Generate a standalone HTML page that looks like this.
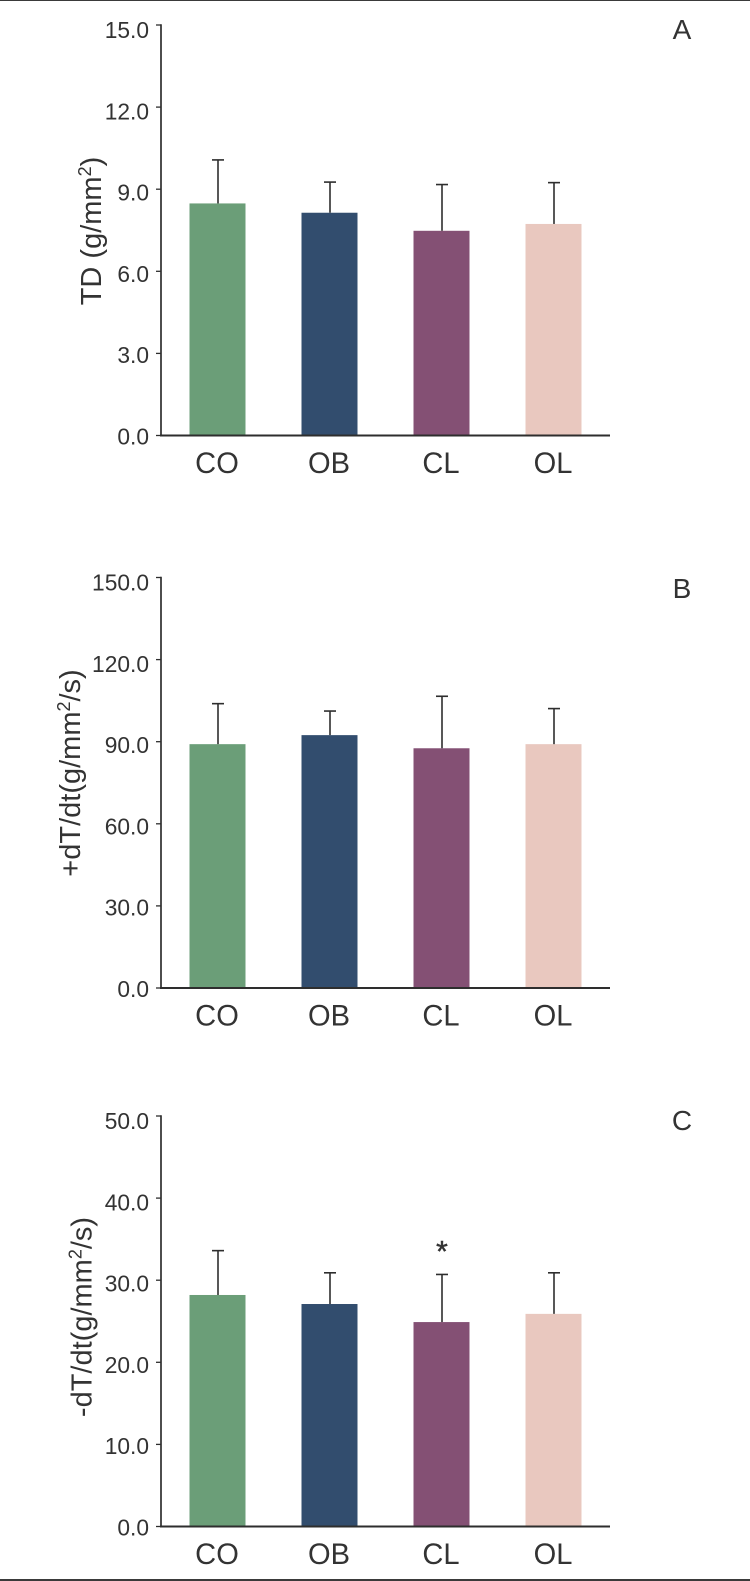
<!DOCTYPE html>
<html lang="en">
<head>
<meta charset="utf-8">
<title>Bar charts of TD, +dT/dt and -dT/dt</title>
<style>
html,body{margin:0;padding:0;background:#fff;}
svg{display:block;}
text{font-family:"Liberation Sans",Arial,sans-serif;fill:#333;}
</style>
</head>
<body>
<svg id="figure" xmlns="http://www.w3.org/2000/svg" width="750" height="1581" viewBox="0 0 750 1581">
  <rect width="750" height="1581" fill="#fff"/>
  <rect x="0" y="0" width="750" height="1" fill="#3a3a3a"/>
  <rect x="0" y="1579" width="750" height="2" fill="#3a3a3a"/>
</svg>
<script>
const categories = ['CO', 'OB', 'CL', 'OL'];
const barColors = ['#6b9e78', '#324d6e', '#845074', '#e9c8bf'];

const tdValues = [8.48, 8.14, 7.48, 7.73];
const tdErrors = [1.59, 1.12, 1.69, 1.51];
const tdTicks = [0, 3, 6, 9, 12, 15];

const plusValues = [89.1, 92.4, 87.6, 89.1];
const plusErrors = [14.8, 8.8, 19.0, 13.0];
const plusTicks = [0, 30, 60, 90, 120, 150];

const minusValues = [28.2, 27.1, 24.9, 25.9];
const minusErrors = [5.4, 3.8, 5.8, 5.0];
const minusTicks = [0, 10, 20, 30, 40, 50];

const svg = document.getElementById('figure');
const NS = 'http://www.w3.org/2000/svg';

function make(tag, props, parent) {
  const el = document.createElementNS(NS, tag);
  for (const k in props) el.setAttribute(k, props[k]);
  parent.appendChild(el);
  return el;
}

function drawPanel(cfg) {
  const left = 161, right = 610, firstCenter = 217.5, step = 112, barWidth = 56;
  const maxVal = cfg.ticks[cfg.ticks.length - 1];
  const y = v => cfg.base - (v / maxVal) * (cfg.base - cfg.top);
  const x = i => firstCenter + i * step;

  const g = make('g', {}, svg);
  
  

  categories.forEach((c, i) => {
    const bar = make('rect', {
      x: x(i) - barWidth / 2, y: y(cfg.values[i]), width: barWidth,
      height: cfg.base - y(cfg.values[i]), fill: barColors[i]
    }, g);
    
    

    const errTop = y(cfg.values[i] + cfg.errors[i]);
    const stem = make('line', {
      x1: x(i) + 0.5, x2: x(i) + 0.5, y1: y(cfg.values[i]), y2: errTop,
      stroke: '#2e2e2e', 'stroke-width': 1.6
    }, g);
    
    

    const cap = make('line', {
      x1: x(i) - 5.5, x2: x(i) + 6.5, y1: errTop, y2: errTop,
      stroke: '#2e2e2e', 'stroke-width': 1.6
    }, g);
    
    

    const label = make('text', {
      transform: 'translate(' + (x(i) - 0.5) + ',' + (cfg.base + 37.5) + ') scale(0.97,1)',
      'font-size': 30, 'text-anchor': 'middle'
    }, g);
    label.textContent = c;
    
    
  });

  const yAxis = make('line', {
    x1: left, x2: left, y1: cfg.top - 0.75, y2: cfg.base + 0.75,
    stroke: '#2e2e2e', 'stroke-width': 1.7
  }, g);
  
  

  const xAxis = make('line', {
    x1: left - 1, x2: right, y1: cfg.base, y2: cfg.base,
    stroke: '#2e2e2e', 'stroke-width': 2
  }, g);
  
  

  cfg.ticks.forEach(t => {
    const tick = make('line', {
      x1: left - 5, x2: left, y1: y(t), y2: y(t),
      stroke: '#2e2e2e', 'stroke-width': 1.3
    }, g);
    
    

    const labelDrop = 9 + 4 * t / maxVal;
    const label = make('text', {
      transform: 'translate(' + (left - 12) + ',' + (y(t) + labelDrop) + ') scale(0.99,1)',
      'font-size': 23, 'text-anchor': 'end'
    }, g);
    label.textContent = t.toFixed(1);
    
    
  });

  const title = make('text', {
    transform: 'translate(' + cfg.titleX + ',' + cfg.titleY + ') rotate(-90)',
    'font-size': 29, 'text-anchor': 'middle'
  }, g);
  
  
  const before = make('tspan', {}, title);
  before.textContent = cfg.titleBefore;
  const sup = make('tspan', { dy: -10, 'font-size': 18 }, title);
  sup.textContent = '2';
  const after = make('tspan', { dy: 10 }, title);
  after.textContent = cfg.titleAfter;

  const letter = make('text', {
    x: 682, y: cfg.letterY, 'font-size': 28, 'text-anchor': 'middle'
  }, g);
  letter.textContent = cfg.letter;
  
  

  return { x, y, g };
}

drawPanel({
  id: 'td', top: 25, base: 435.5, values: tdValues, errors: tdErrors, ticks: tdTicks,
  titleX: 101, titleY: 231, titleBefore: 'TD (g/mm', titleAfter: ')', letter: 'A', letterY: 39
});

drawPanel({
  id: 'plus-dt', top: 577.5, base: 988, values: plusValues, errors: plusErrors, ticks: plusTicks,
  titleX: 80, titleY: 773, titleBefore: '+dT/dt(g/mm', titleAfter: '/s)', letter: 'B', letterY: 598
});

const panelC = drawPanel({
  id: 'minus-dt', top: 1116, base: 1526.5, values: minusValues, errors: minusErrors, ticks: minusTicks,
  titleX: 91.5, titleY: 1317, titleBefore: '-dT/dt(g/mm', titleAfter: '/s)', letter: 'C', letterY: 1130
});

const star = make('text', {
  x: panelC.x(2) + 0.5, y: panelC.y(minusValues[2] + minusErrors[2]) - 13,
  'font-size': 30, 'text-anchor': 'middle', stroke: '#333', 'stroke-width': 0.5
}, panelC.g);
star.textContent = '*';


</script>
</body>
</html>
